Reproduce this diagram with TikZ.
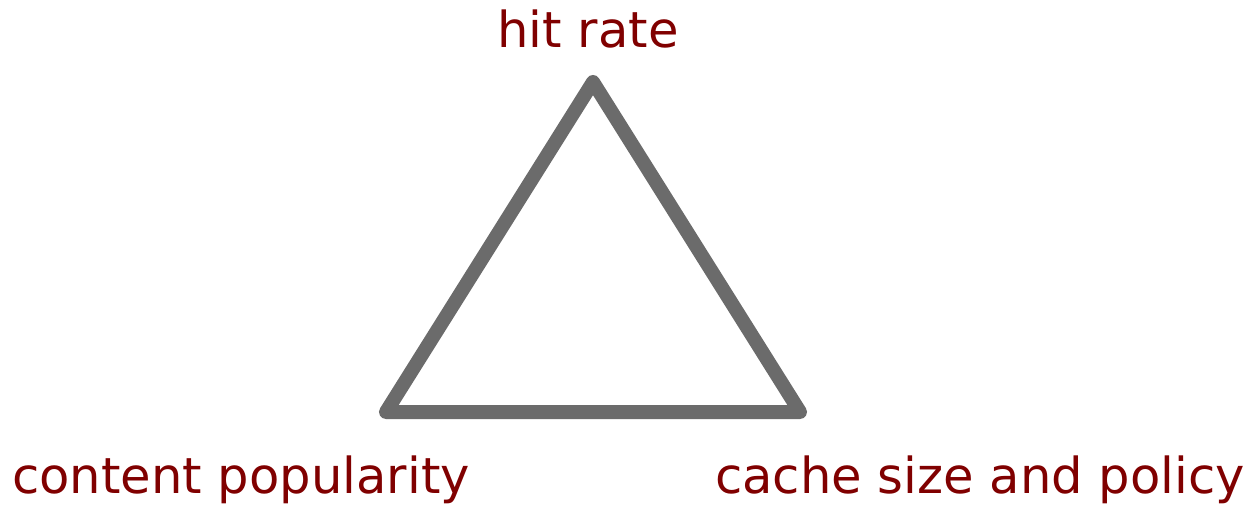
\documentclass[tikz,border=0pt]{standalone}
\usepackage{fontspec}
\setmainfont{DejaVu Sans}
\definecolor{lbl}{HTML}{800000}
\definecolor{tri}{HTML}{6B6B6B}
\tikzset{
  lab/.style={text=lbl, inner sep=0pt, font=\fontsize{37.2}{40}\selectfont},
  edge/.style={draw=tri, line width=10.5pt, line join=round, line cap=round}
}
\begin{document}
\begin{tikzpicture}[x=0.75pt, y=-0.75pt]
\useasboundingbox (0,0) rectangle (1254,506);
\coordinate (t) at (593,82);
\coordinate (l) at (386,412);
\coordinate (r) at (800,412);
\draw[edge] (t) -- (r) -- (l) -- cycle;
\node[lab, anchor=base] (hit) at (588,48) {hit rate};
\node[lab, anchor=base west] (pop) at (12,493) {content popularity};
\node[lab, anchor=base east] (cache) at (1245,493) {cache size and policy};
\end{tikzpicture}
\end{document}
